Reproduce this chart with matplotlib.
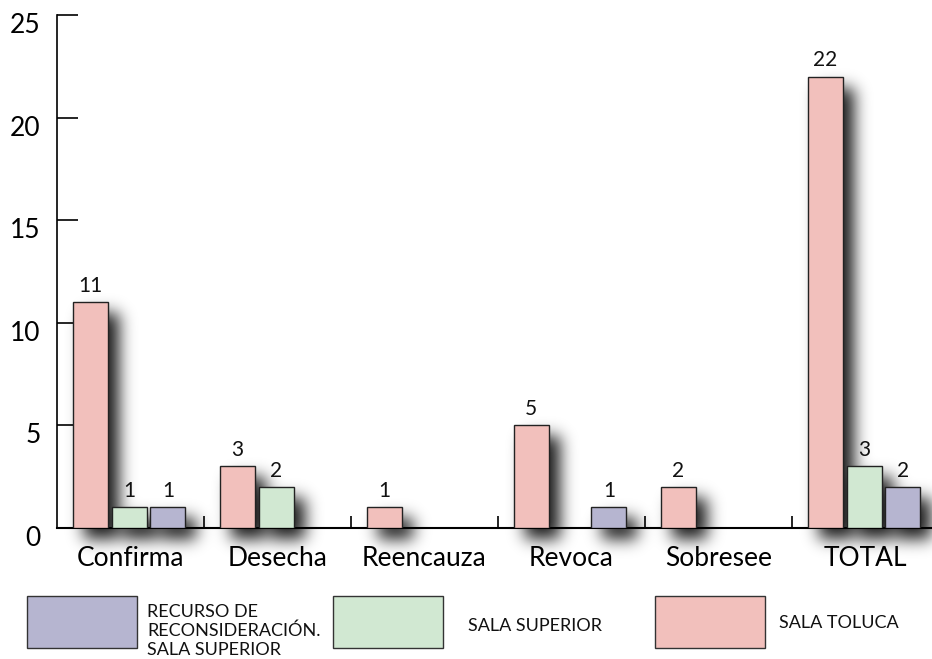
import numpy as np
import matplotlib
matplotlib.use("Agg")
import matplotlib.pyplot as plt
from matplotlib.patches import Rectangle
from matplotlib.transforms import ScaledTranslation

# data
categories = ["Confirma", "Desecha", "Reencauza", "Revoca", "Sobresee", "TOTAL"]
series_names = ["SALA TOLUCA", "SALA SUPERIOR", "RECURSO DE\nRECONSIDERACIÓN.\nSALA SUPERIOR"]
toluca = [11, 3, 1, 5, 2, 22]
superior = [1, 2, 0, 0, 0, 3]
recurso = [1, 0, 0, 1, 0, 2]
values = [toluca, superior, recurso]
colors = ["#f2c0bc", "#d1e8d2", "#b6b5d0"]

plt.rcParams["font.family"] = ["Lato", "DejaVu Sans"]

W, H = 932, 659
fig = plt.figure(figsize=(W / 100, H / 100), dpi=100)
ax = fig.add_axes([57 / W, (H - 528) / H, 882 / W, 513 / H])
ax.set_zorder(2)
ax.patch.set_visible(False)
ax.set_xlim(-0.5, 5.5)
ax.set_ylim(0, 25)

x = np.arange(len(categories))
width = 0.238
step = 0.265
bars = []
for k, vals in enumerate(values):
    pos = x + (k - 1) * step - 0.01
    for xi, v in zip(pos, vals):
        if v == 0:
            continue
        ax.bar(xi, v, width, color=colors[k], edgecolor="#222222", linewidth=1.0, zorder=3)
        bars.append((xi, v))
        ax.text(xi, v + 0.3, str(v), ha="center", va="bottom", fontsize=15, color="#111111")

# spines / ticks
for s in ["top", "right"]:
    ax.spines[s].set_visible(False)
ax.spines["left"].set_linewidth(1.2)
ax.spines["bottom"].set_linewidth(1.5)
ax.set_yticks([0, 5, 10, 15, 20, 25])
ax.tick_params(axis="y", direction="in", length=15, width=1.2, labelsize=19, pad=12)
for lab in ax.get_yticklabels():
    lab.set_transform(lab.get_transform() + ScaledTranslation(0, -0.08, fig.dpi_scale_trans))
ax.set_xticks(x)
ax.set_xticklabels(categories)
ax.tick_params(axis="x", length=0, labelsize=19, pad=13)
ax.set_xticks(x[:-1] + 0.5, minor=True)
ax.tick_params(axis="x", which="minor", direction="in", length=9, width=1.2)

# soft drop shadow behind the bars
mask = np.zeros((H, W))
dx, dy = 11, -11
for xi, v in bars:
    (x0, y0) = ax.transData.transform((xi - width / 2, 0))
    (x1, y1) = ax.transData.transform((xi + width / 2, v))
    c0, c1 = int(round(x0 + dx)), int(round(x1 + dx))
    r0, r1 = int(round(y0 + dy)), int(round(y1 + dy))
    mask[max(r0, 0):max(r1, 0), max(c0, 0):min(c1, W)] = 1.0
sig = 8
kx = np.arange(-3 * sig, 3 * sig + 1)
kern = np.exp(-kx ** 2 / (2 * sig ** 2))
kern /= kern.sum()
mask = np.apply_along_axis(lambda m: np.convolve(m, kern, mode="same"), 0, mask)
mask = np.apply_along_axis(lambda m: np.convolve(m, kern, mode="same"), 1, mask)
shadow = np.zeros((H, W, 4))
shadow[..., 3] = np.clip(mask * 0.9, 0, 1)
fig.figimage(shadow, xo=0, yo=0, origin="lower", zorder=1)

# legend drawn by hand
def fx(px):
    return px / W

def fy(py):
    return (H - py) / H

leg_order = [2, 1, 0]
box_x = [27, 333, 655]
text_x = [147, 468, 779]
text_y = [631, 626, 623]
for j, k in enumerate(leg_order):
    fig.add_artist(Rectangle((fx(box_x[j]), fy(648)), 110 / W, 52 / H, transform=fig.transFigure,
                             facecolor=colors[k], edgecolor="#333333", linewidth=1.0))
    fig.text(fx(text_x[j]), fy(text_y[j]), series_names[k], ha="left", va="center",
             fontsize=13, linespacing=1.2, color="#111111")

fig.savefig("out.png", dpi=100)
